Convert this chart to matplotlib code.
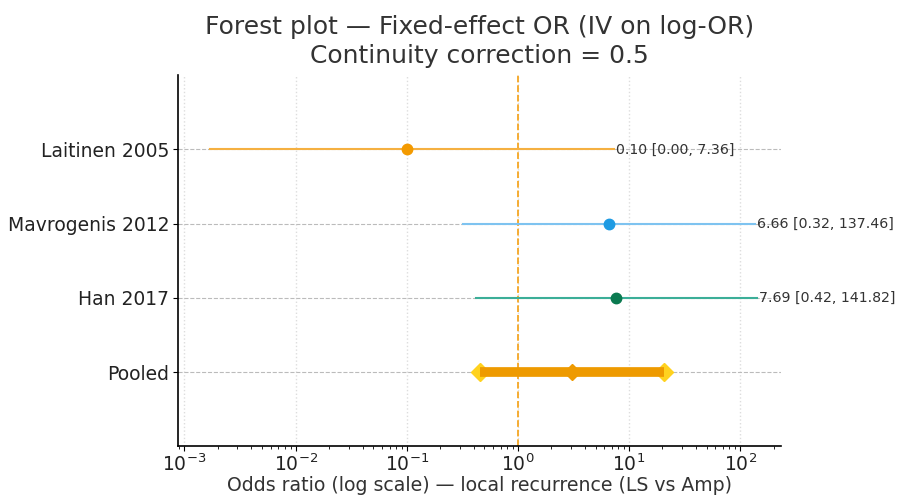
import matplotlib
matplotlib.use("Agg")
import matplotlib.pyplot as plt
import numpy as np

studies = ["Laitinen 2005", "Mavrogenis 2012", "Han 2017"]
or_est = [0.10, 6.66, 7.69]
ci_lo = [0.0017, 0.32, 0.42]
ci_hi = [7.36, 137.46, 141.82]
ci_lo_label = [0.00, 0.32, 0.42]
marker_colors = ["#F39A00", "#1E9BE3", "#0B7A50"]
line_colors = ["#F5B041", "#7EC3F0", "#3BAE98"]

pooled_label = "Pooled"
pooled_est = 3.1
pooled_lo = 0.46
pooled_hi = 20.5

fig = plt.figure(figsize=(8.98, 4.95), dpi=100)
ax = fig.add_axes([0.198, 0.098, 0.672, 0.75])

n = len(studies)
ypos = list(range(n, 0, -1))
for i in range(n):
    y = ypos[i]
    ax.plot([ci_lo[i], ci_hi[i]], [y, y], color=line_colors[i], lw=1.5, zorder=3)
    ax.plot([or_est[i]], [y], "o", color=marker_colors[i], ms=7.5, zorder=4)
    ax.text(ci_hi[i] * 1.04, y, f"{or_est[i]:.2f} [{ci_lo_label[i]:.2f}, {ci_hi[i]:.2f}]",
            va="center", ha="left", fontsize=10.2, color="#333333")

ax.plot([pooled_lo, pooled_hi], [0, 0], "D", color="#FFD21F", ms=9, zorder=3)
ax.plot([pooled_lo, pooled_hi], [0, 0], color="#EE9A00", lw=7, zorder=4, solid_capstyle="butt")
ax.plot([pooled_est], [0], "D", color="#EE9A00", ms=8.5, zorder=5)

ax.axvline(1, color="#F5A623", ls="--", lw=1.3, zorder=2)

ax.set_xscale("log")
ax.set_xlim(10 ** -3.06, 10 ** 2.37)
ax.set_ylim(-1, 4)
ax.set_yticks([0] + ypos[::-1])
ax.set_yticklabels([pooled_label] + studies[::-1], fontsize=13.5, color="#222222")
ax.tick_params(axis="x", labelsize=13.5, pad=1.5, labelcolor="#222222")
ax.tick_params(axis="y", pad=2.5)

ax.grid(axis="x", which="major", color="#DDDDDD", ls=":", lw=1)
ax.grid(axis="y", color="#BBBBBB", ls="--", lw=0.8)
ax.set_axisbelow(True)
for s in ["top", "right"]:
    ax.spines[s].set_visible(False)
ax.spines["left"].set_linewidth(1.2)
ax.spines["bottom"].set_linewidth(1.2)

ax.set_xlabel("Odds ratio (log scale) — local recurrence (LS vs Amp)", fontsize=13.6,
              color="#333333", labelpad=1)
ax.set_title("Forest plot — Fixed-effect OR (IV on log-OR)\nContinuity correction = 0.5",
             fontsize=18, color="#333333", pad=9, linespacing=1.27)

fig.savefig("out.png", dpi=100)
